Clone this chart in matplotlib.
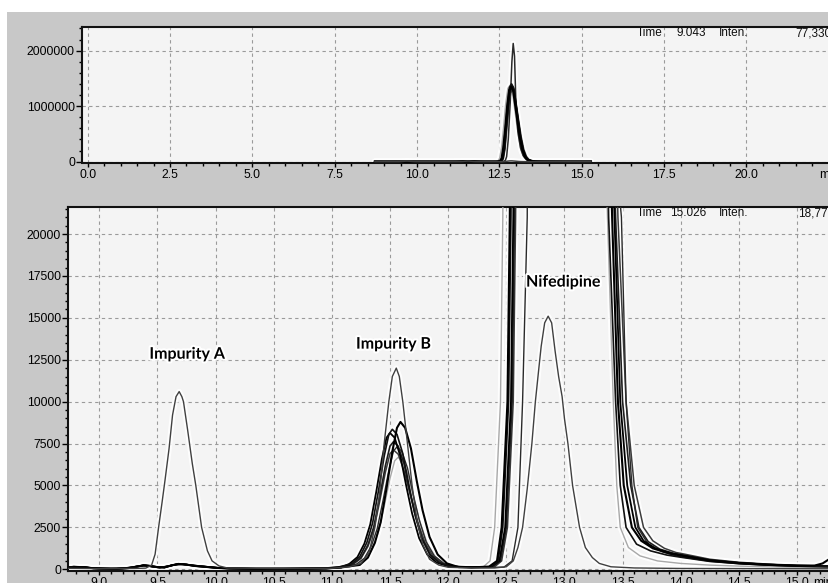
import matplotlib.pyplot as plt
from matplotlib.patches import Rectangle
from matplotlib.ticker import MultipleLocator, FixedLocator, FixedFormatter
import matplotlib.patheffects as pe

# ---- data (time in min, intensity) ----
# shared baseline stretches before impurity B
pre_t_a = [8.72, 8.78, 8.85, 8.92, 9.00, 9.10, 9.20, 9.28, 9.34, 9.40, 9.46, 9.52,
           9.60, 9.66, 9.72, 9.80, 9.90, 10.0, 10.1, 10.3, 10.6, 10.9, 11.05]
pre_i_a = [120, 160, 140, 80, 50, 40, 60, 120, 200, 220, 150, 100,
           200, 280, 300, 240, 170, 100, 60, 40, 40, 60, 120]
pre_t_b = [8.72, 8.80, 8.88, 8.95, 9.05, 9.15, 9.25, 9.32, 9.38, 9.44, 9.50, 9.56,
           9.62, 9.68, 9.75, 9.82, 9.92, 10.02, 10.12, 10.35, 10.7, 10.95, 11.08]
pre_i_b = [90, 130, 120, 60, 40, 30, 70, 150, 240, 200, 130, 110,
           230, 320, 280, 200, 140, 80, 50, 30, 35, 50, 110]

# standard trace (impurity A, impurity B, small nifedipine peak)
std_t = [8.72, 9.00, 9.30, 9.40, 9.45, 9.48, 9.51, 9.54, 9.565, 9.60, 9.63, 9.66, 9.687,
         9.71, 9.724, 9.76, 9.80, 9.83, 9.88, 9.93, 9.97, 10.03, 10.10, 10.5, 11.0,
         11.15, 11.25, 11.32, 11.37, 11.41, 11.45, 11.49, 11.52, 11.554, 11.58, 11.61,
         11.65, 11.69, 11.73, 11.78, 11.84, 11.92, 12.0, 12.2,
         12.40, 12.50, 12.56, 12.60, 12.64, 12.68, 12.72, 12.75, 12.78, 12.80, 12.83,
         12.86, 12.89, 12.92, 12.95, 12.98, 13.00, 13.03, 13.07, 13.13, 13.18, 13.24,
         13.30, 13.40, 13.6, 14.0, 15.28]
std_i = [60, 40, 50, 70, 250, 900, 2500, 4000, 5300, 7200, 9200, 10300, 10600,
         10300, 10000, 8300, 6300, 5000, 2500, 1100, 500, 200, 80, 50, 60,
         150, 350, 1000, 2500, 4500, 7500, 10000, 11500, 12000, 11500, 10000,
         7500, 5000, 3000, 1500, 600, 250, 120, 80,
         80, 150, 500, 1300, 2500, 4800, 7500, 10000, 12000, 13300, 14700,
         15100, 14700, 13000, 11500, 10300, 9000, 7500, 5000, 2500, 1300, 700,
         350, 150, 80, 50, 30]

# sample traces: impurity B part
b_t_k1 = [11.24, 11.31, 11.37, 11.42, 11.47, 11.52, 11.56, 11.59, 11.63, 11.68, 11.73, 11.78, 11.84, 11.91, 11.99, 12.09]
b_i_k1 = [260, 700, 1580, 2810, 4830, 7030, 8440, 8790, 8440, 7210, 5270, 3520, 1930, 880, 350, 130]
b_t_k2 = [11.17, 11.24, 11.30, 11.35, 11.40, 11.45, 11.49, 11.52, 11.56, 11.61, 11.66, 11.71, 11.77, 11.84, 11.92, 12.02]
b_i_k2 = [330, 750, 1580, 2750, 4650, 6750, 8050, 8350, 8050, 6900, 5100, 3420, 1900, 900, 400, 180]
b_t_k3 = [11.15, 11.22, 11.28, 11.33, 11.38, 11.43, 11.47, 11.50, 11.54, 11.59, 11.64, 11.69, 11.75, 11.82, 11.90, 12.00]
b_i_k3 = [320, 730, 1540, 2680, 4560, 6580, 7850, 8130, 7850, 6720, 4960, 3330, 1860, 880, 400, 180]
b_t_k4 = [11.18, 11.25, 11.31, 11.36, 11.41, 11.46, 11.50, 11.53, 11.57, 11.62, 11.67, 11.72, 11.78, 11.85, 11.93, 12.03]
b_i_k4 = [310, 690, 1450, 2520, 4270, 6170, 7350, 7610, 7350, 6320, 4650, 3130, 1750, 840, 380, 170]
b_t_k5 = [11.18, 11.25, 11.31, 11.36, 11.41, 11.46, 11.50, 11.53, 11.57, 11.62, 11.68, 11.74, 11.80, 11.87, 11.95, 12.05]
b_i_k5 = [290, 650, 1360, 2360, 4000, 5780, 6900, 7120, 6870, 5900, 4300, 2800, 1600, 780, 360, 160]
b_t_k6 = [11.21, 11.28, 11.34, 11.39, 11.44, 11.49, 11.53, 11.56, 11.60, 11.65, 11.70, 11.75, 11.81, 11.88, 11.96, 12.06]
b_i_k6 = [300, 660, 1400, 2420, 4100, 5900, 7060, 7300, 7050, 6050, 4450, 2980, 1650, 800, 360, 160]
b_t_g1 = [11.22, 11.29, 11.35, 11.40, 11.45, 11.50, 11.54, 11.57, 11.61, 11.66, 11.71, 11.76, 11.82, 11.89, 11.97, 12.07]
b_i_g1 = [280, 610, 1280, 2220, 3750, 5420, 6470, 6680, 6430, 5520, 4080, 2770, 1550, 750, 340, 150]

# sample traces: nifedipine part (full height, off-scale in lower panel)
n_t_k1 = [12.20, 12.35, 12.42, 12.46, 12.51, 12.53, 12.57, 12.62, 12.68, 12.74, 12.80, 12.86, 12.92, 12.98, 13.05, 13.12,
          13.20, 13.28, 13.35, 13.41, 13.46, 13.51, 13.58, 13.66, 13.76, 13.90, 14.00, 14.25, 14.50, 14.75, 15.00, 15.15, 15.22, 15.28]
n_i_k1 = [120, 150, 500, 2500, 10000, 21000, 60000, 250000, 600000, 1000000, 1290000, 1350000, 1280000, 1030000, 730000, 440000,
          210000, 85000, 38000, 21000, 10000, 5000, 2500, 1700, 1250, 950, 820, 520, 370, 270, 210, 220, 350, 620]
n_t_k2 = [12.20, 12.36, 12.43, 12.47, 12.52, 12.54, 12.58, 12.63, 12.69, 12.75, 12.81, 12.87, 12.93, 12.99, 13.06, 13.13,
          13.20, 13.27, 13.33, 13.38, 13.44, 13.48, 13.53, 13.62, 13.74, 13.88, 14.00, 14.25, 14.50, 14.75, 15.00, 15.28]
n_i_k2 = [110, 140, 500, 2500, 10000, 21000, 62000, 260000, 630000, 1040000, 1340000, 1400000, 1330000, 1060000, 740000, 440000,
          220000, 90000, 40000, 21000, 10000, 5000, 2500, 1500, 1100, 850, 720, 470, 340, 250, 190, 150]
n_t_k3 = [12.20, 12.37, 12.44, 12.49, 12.54, 12.56, 12.60, 12.65, 12.70, 12.76, 12.82, 12.88, 12.94, 13.00, 13.07, 13.14,
          13.22, 13.30, 13.36, 13.43, 13.48, 13.54, 13.61, 13.68, 13.78, 13.92, 14.00, 14.25, 14.50, 14.75, 15.00, 15.28]
n_i_k3 = [130, 160, 500, 2500, 10000, 21000, 60000, 250000, 610000, 1010000, 1310000, 1370000, 1300000, 1040000, 740000, 450000,
          210000, 85000, 40000, 21000, 10000, 5000, 2500, 1700, 1250, 950, 850, 540, 380, 280, 220, 180]
n_t_k4 = [12.20, 12.38, 12.45, 12.50, 12.55, 12.57, 12.61, 12.66, 12.71, 12.77, 12.83, 12.88, 12.94, 13.00, 13.07, 13.14,
          13.22, 13.30, 13.37, 13.44, 13.50, 13.57, 13.64, 13.72, 13.82, 13.94, 14.00, 14.25, 14.50, 14.75, 15.00, 15.28]
n_i_k4 = [110, 140, 500, 2500, 10000, 21000, 58000, 240000, 590000, 980000, 1280000, 1330000, 1270000, 1020000, 730000, 450000,
          220000, 90000, 40000, 21000, 10000, 5000, 2500, 1650, 1200, 950, 880, 560, 390, 290, 220, 180]
n_t_k5 = [12.20, 12.40, 12.46, 12.51, 12.56, 12.58, 12.62, 12.67, 12.72, 12.78, 12.84, 12.90, 12.96, 13.02, 13.09, 13.16,
          13.24, 13.32, 13.39, 13.46, 13.53, 13.60, 13.68, 13.76, 13.86, 13.96, 14.00, 14.25, 14.50, 14.75, 15.00, 15.28]
n_i_k5 = [120, 150, 500, 2500, 10000, 21000, 56000, 230000, 570000, 950000, 1240000, 1300000, 1240000, 1000000, 720000, 450000,
          220000, 95000, 42000, 21000, 10000, 5000, 2500, 1700, 1250, 1000, 950, 600, 420, 310, 240, 200]
n_t_k6 = [12.30, 12.48, 12.55, 12.60, 12.64, 12.68, 12.72, 12.77, 12.83, 12.88, 12.92, 12.96, 13.00, 13.06, 13.14, 13.22,
          13.30, 13.38, 13.44, 13.49, 13.53, 13.58, 13.63, 13.72, 13.84, 13.96, 14.00, 14.25, 14.50, 14.75, 15.00, 15.28]
n_i_k6 = [100, 130, 500, 2500, 10000, 21000, 90000, 400000, 1070000, 1800000, 2130000, 1900000, 1100000, 550000, 250000, 110000,
          55000, 32000, 25000, 21000, 10000, 5000, 2500, 1500, 1050, 800, 750, 480, 330, 240, 180, 150]
n_t_g1 = [12.15, 12.30, 12.36, 12.40, 12.45, 12.47, 12.51, 12.57, 12.63, 12.69, 12.76, 12.83, 12.89, 12.95, 13.02, 13.09,
          13.17, 13.25, 13.32, 13.37, 13.42, 13.45, 13.48, 13.55, 13.65, 13.80, 14.00, 14.25, 14.50, 14.75, 15.00, 15.28]
n_i_g1 = [100, 130, 500, 2500, 10000, 21000, 62000, 260000, 620000, 1020000, 1320000, 1380000, 1300000, 1030000, 720000, 430000,
          200000, 80000, 36000, 21000, 10000, 5000, 2500, 1300, 800, 500, 350, 250, 190, 150, 120, 100]

# (time, intensity, colour, linewidth) in drawing order
traces = [
    (pre_t_b + b_t_g1 + n_t_g1, pre_i_b + b_i_g1 + n_i_g1, "#a8a8a8", 1.0),
    (pre_t_a + b_t_k5 + n_t_k5, pre_i_a + b_i_k5 + n_i_k5, "#3c3c3c", 1.1),
    (pre_t_b + b_t_k4 + n_t_k4, pre_i_b + b_i_k4 + n_i_k4, "#1e1e1e", 1.2),
    (pre_t_a + b_t_k6 + n_t_k6, pre_i_a + b_i_k6 + n_i_k6, "#2a2a2a", 1.0),
    (pre_t_b + b_t_k3 + n_t_k3, pre_i_b + b_i_k3 + n_i_k3, "#000000", 1.3),
    (pre_t_a + b_t_k2 + n_t_k2, pre_i_a + b_i_k2 + n_i_k2, "#111111", 1.2),
    (pre_t_b + b_t_k1 + n_t_k1, pre_i_b + b_i_k1 + n_i_k1, "#000000", 1.5),
    (std_t, std_i, "#404040", 1.0),
]

W, H = 829, 583


def style_axes(ax):
    ax.set_facecolor("#f4f4f4")
    ax.spines["right"].set_visible(False)
    for s in ("top", "left", "bottom"):
        ax.spines[s].set_linewidth(1.5)
        ax.spines[s].set_color("#111111")
    ax.grid(True, which="major", color="#9a9a9a", linestyle=(0, (3, 3)), linewidth=0.8)
    ax.set_axisbelow(True)
    ax.tick_params(axis="y", which="major", direction="out", length=4.5, width=1, labelsize=8.7, pad=0.6)
    ax.tick_params(axis="y", which="minor", direction="out", length=2.5, width=1)
    ax.tick_params(axis="x", which="major", direction="out", length=3, width=1, labelsize=8.7, pad=2.0)
    ax.tick_params(axis="x", which="minor", direction="out", length=2, width=1)
    for lab in ax.get_xticklabels() + ax.get_yticklabels():
        lab.set_fontfamily("Liberation Sans")


def draw_traces(ax, scale):
    for t, i, c, lw in traces:
        ax.plot(t, i, color="white", lw=lw * scale + 3, alpha=0.85, zorder=2, solid_capstyle="round")
    for t, i, c, lw in traces:
        ax.plot(t, i, color=c, lw=lw * scale, zorder=3)


fig = plt.figure(figsize=(W / 100, H / 100), dpi=100)
fig.patch.set_facecolor("white")
fig.add_artist(Rectangle((7 / W, 0), 1, 1 - 12 / H, transform=fig.transFigure,
                         facecolor="#c8c8c8", edgecolor="none", zorder=-10))

# upper overview panel
ax1 = fig.add_axes([82 / W, 1 - 162.5 / H, 750 / W, 135.8 / H])
draw_traces(ax1, 1.1)
ax1.set_xlim(-0.173, 22.6)
ax1.set_ylim(-14400, 2432000)
ax1.xaxis.set_major_locator(FixedLocator([0, 2.5, 5, 7.5, 10, 12.5, 15, 17.5, 20, 22.5]))
ax1.xaxis.set_major_formatter(FixedFormatter(["0.0", "2.5", "5.0", "7.5", "10.0", "12.5",
                                              "15.0", "17.5", "20.0", "min"]))
ax1.xaxis.set_minor_locator(MultipleLocator(0.5))
ax1.yaxis.set_major_locator(FixedLocator([0, 1000000, 2000000]))
ax1.yaxis.set_major_formatter(FixedFormatter(["0", "1000000", "2000000"]))
ax1.yaxis.set_minor_locator(MultipleLocator(200000))
style_axes(ax1)

# lower zoomed panel
ax2 = fig.add_axes([68 / W, 1 - 570.5 / H, 761 / W, 363.5 / H])
draw_traces(ax2, 1.0)
ax2.set_xlim(8.731, 15.275)
ax2.set_ylim(-72, 21611)
ax2.xaxis.set_major_locator(MultipleLocator(0.5))
ax2.xaxis.set_major_formatter(plt.FuncFormatter(lambda v, p: f"{v:.1f}"))
ax2.xaxis.set_minor_locator(MultipleLocator(0.1))
ax2.yaxis.set_major_locator(MultipleLocator(2500))
ax2.yaxis.set_major_formatter(plt.FuncFormatter(lambda v, p: f"{v:.0f}"))
ax2.yaxis.set_minor_locator(MultipleLocator(500))
style_axes(ax2)

# peak labels
halo = [pe.withStroke(linewidth=3, foreground="white")]
for x, y, s in [(9.756, 12800, "Impurity A"), (11.53, 13400, "Impurity B"), (12.99, 17100, "Nifedipine")]:
    ax2.text(x, y, s, ha="center", va="center", fontsize=11.5, fontweight="bold",
             family="Lato", color="#000000", path_effects=halo, zorder=5)

# cursor readouts
info = dict(fontsize=8.5, family="Liberation Sans", color="#111111", va="center")
for px, s in [(637, "Time"), (677, "9.043"), (719, "Inten."), (795, "77,330")]:
    fig.text(px / W, 1 - 33 / H, s, **info)
for px, s in [(637, "Time"), (670, "15.026"), (719, "Inten."), (798, "18,772")]:
    fig.text(px / W, 1 - 213 / H, s, **info)
fig.text(813 / W, 1 - 577.5 / H, "min", fontsize=8.7, family="Liberation Sans", va="top")

plt.savefig("out.png", dpi=100)
